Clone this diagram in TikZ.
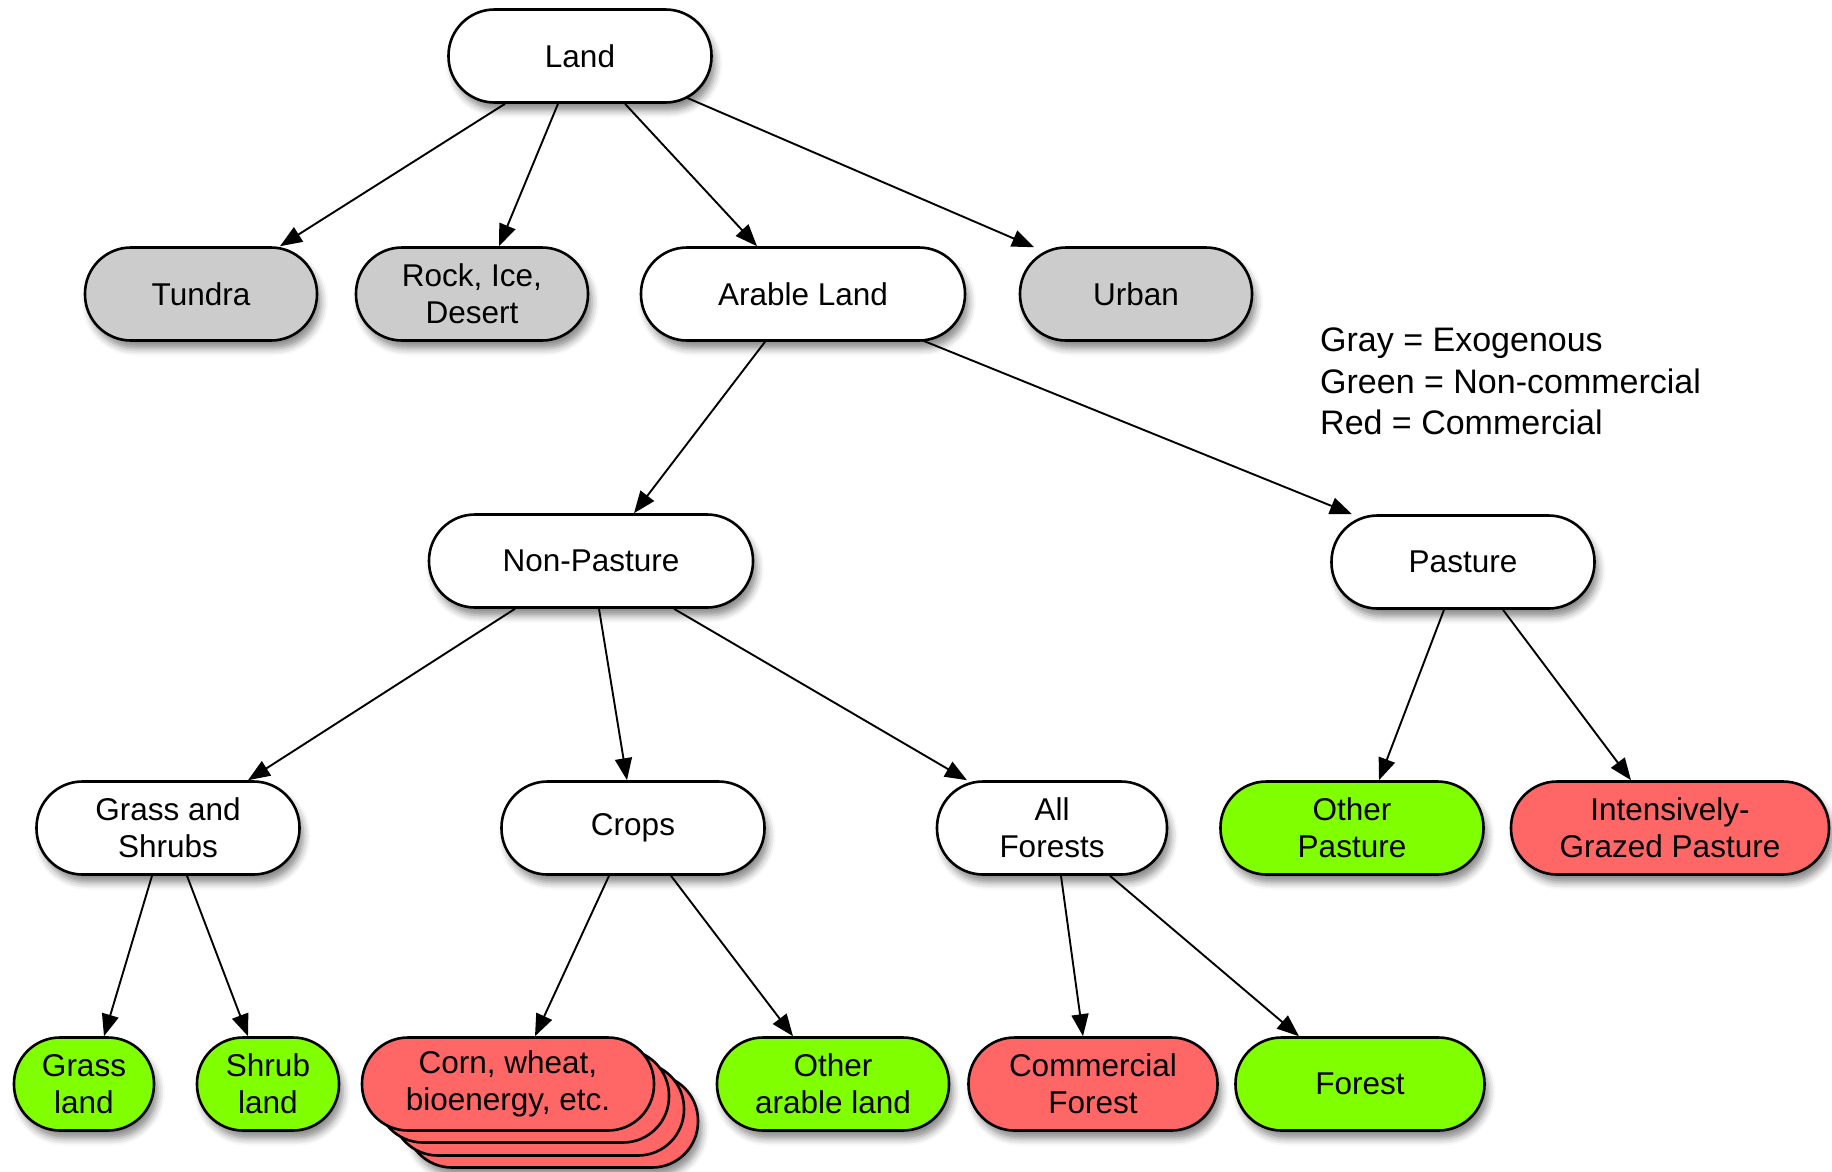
\documentclass[tikz,border=0pt]{standalone}
\usepackage{fontspec}
\setmainfont{Liberation Sans}
\usetikzlibrary{arrows.meta,shadows.blur}
\definecolor{exo}{HTML}{CCCCCC}
\definecolor{noncom}{HTML}{80FF00}
\definecolor{com}{HTML}{FF6666}
\tikzset{
  box/.style={draw=black, line width=2.6pt, rectangle, rounded corners=46pt,
    minimum height=93pt, inner sep=0pt, align=center, fill=white,
    font=\fontsize{31.5}{37}\selectfont},
  shade/.style={blur shadow={shadow xshift=4pt, shadow yshift=-8pt, shadow blur radius=7pt, shadow opacity=45}},
  graybox/.style={box, shade, fill=exo},
  greenbox/.style={box, shade, fill=noncom},
  redbox/.style={box, shade, fill=com},
  whitebox/.style={box, shade, fill=white},
  conn/.style={line width=1.9pt, -{Triangle[length=22pt, width=17pt]}},
}
\begin{document}
\begin{tikzpicture}[x=1pt, y=-1pt]
\useasboundingbox (0,0) rectangle (1832,1171);
% nodes
\node[whitebox, minimum width=263pt] (land) at (580,56) {Land};
\node[graybox, minimum width=232pt] (tundra) at (201,294) {Tundra};
\node[graybox, minimum width=232pt] (rock) at (472,294) {Rock, Ice,\\Desert};
\node[whitebox, minimum width=324pt] (arable) at (803,294) {Arable Land};
\node[graybox, minimum width=232pt] (urban) at (1136,294) {Urban};
\node[anchor=north west, align=left, inner sep=0pt, font=\fontsize{34}{41.5}\selectfont] (legend) at (1320,328)
  {Gray = Exogenous\\Green = Non-commercial\\Red = Commercial};
\node[whitebox, minimum width=324pt] (nonpasture) at (591,561) {Non-Pasture};
\node[whitebox, minimum width=263pt] (pasture) at (1463,562) {Pasture};
\node[whitebox, minimum width=263pt] (grass) at (168,828) {Grass and\\Shrubs};
\node[whitebox, minimum width=263pt] (crops) at (633,828) {Crops};
\node[whitebox, minimum width=230pt] (allforests) at (1052,828) {All\\Forests};
\node[greenbox, minimum width=263pt] (otherpast) at (1352,828) {Other\\Pasture};
\node[redbox, minimum width=318pt] (intens) at (1670,828) {Intensively-\\Grazed Pasture};
\node[greenbox, minimum width=140pt] (grassland) at (84,1084) {Grass\\land};
\node[greenbox, minimum width=142pt] (shrubland) at (268,1084) {Shrub\\land};
\node[redbox, minimum width=292pt] (corn3) at (552,1121) {};
\node[box, fill=com, minimum width=292pt] (corn2) at (538,1109) {};
\node[box, fill=com, minimum width=292pt] (corn1) at (523,1096) {};
\node[box, fill=com, minimum width=292pt] (corn) at (508,1084) {Corn, wheat,\\bioenergy, etc.};
\node[greenbox, minimum width=232pt] (otherarable) at (833,1084) {Other\\arable land};
\node[redbox, minimum width=249pt] (commforest) at (1093,1084) {Commercial\\Forest};
\node[greenbox, minimum width=249pt] (forest) at (1360,1084) {Forest};
% connectors
\draw[conn] ([xshift=-75pt]land.south) -- ([xshift=79pt]tundra.north);
\draw[conn] ([xshift=-22pt]land.south) -- ([xshift=27pt]rock.north);
\draw[conn] ([xshift=45pt]land.south) -- ([xshift=-46pt]arable.north);
\draw[conn] ([xshift=107pt,yshift=6pt]land.south) -- ([xshift=-102pt,yshift=-1pt]urban.north);
\draw[conn] ([xshift=-38pt]arable.south) -- ([xshift=43pt]nonpasture.north);
\draw[conn] ([xshift=118pt,yshift=2pt]arable.south) -- ([xshift=-111pt]pasture.north);
\draw[conn] ([xshift=-76pt]nonpasture.south) -- ([xshift=80pt]grass.north);
\draw[conn] ([xshift=8pt]nonpasture.south) -- ([xshift=-6pt]crops.north);
\draw[conn] ([xshift=83pt]nonpasture.south) -- ([xshift=-85pt]allforests.north);
\draw[conn] ([xshift=-19pt]pasture.south) -- ([xshift=27pt]otherpast.north);
\draw[conn] ([xshift=40pt]pasture.south) -- ([xshift=-39pt]intens.north);
\draw[conn] ([xshift=-16pt]grass.south) -- ([xshift=20pt]grassland.north);
\draw[conn] ([xshift=19pt]grass.south) -- ([xshift=-20pt]shrubland.north);
\draw[conn] ([xshift=-24pt]crops.south) -- ([xshift=27pt]corn.north);
\draw[conn] ([xshift=38pt]crops.south) -- ([xshift=-40pt]otherarable.north);
\draw[conn] ([xshift=9pt]allforests.south) -- ([xshift=-10pt]commforest.north);
\draw[conn] ([xshift=58pt]allforests.south) -- ([xshift=-61pt]forest.north);
\end{tikzpicture}
\end{document}
